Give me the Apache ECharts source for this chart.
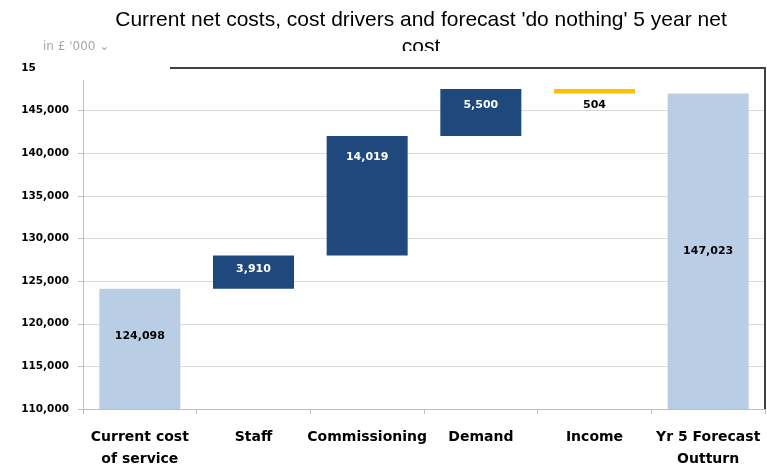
<!DOCTYPE html>
<html>
<head>
<meta charset="utf-8">
<title>Net costs waterfall</title>
<script src="https://cdn.jsdelivr.net/npm/echarts@6/dist/echarts.min.js"></script>
<style>
  html, body { margin: 0; padding: 0; background: #fff; }
  #chart { width: 767px; height: 470px; }
</style>
</head>
<body>
<div id="chart"></div>
<script>
// data (in £ '000)
const categories = ['Current cost\nof service', 'Staff', 'Commissioning', 'Demand', 'Income', 'Yr 5 Forecast\nOutturn'];
const currentCost = 124098;
const driverValues = [3910, 14019, 5500]; // Staff, Commissioning, Demand
const incomeValue = -504;
const forecastOutturn = 147023;
const yMin = 110000;
const yMax = 150000;
const yStep = 5000;

const lightBlue = '#b9cde5';
const darkBlue = '#1f497d';
const yellow = '#ffc000';
const fmt = (v) => Number(v).toLocaleString('en-US');

// build the stacked waterfall columns
const baseData = [0];
const totalData = [currentCost];
const driverData = ['-'];
const incomeData = ['-'];
let running = currentCost;
driverValues.forEach((d) => {
  baseData.push(running);
  driverData.push(d);
  totalData.push('-');
  incomeData.push('-');
  running += d;
});
running += incomeValue;
baseData.push(running);
incomeData.push(Math.abs(incomeValue));
driverData.push('-');
totalData.push('-');
baseData.push(0);
totalData.push(forecastOutturn);
driverData.push('-');
incomeData.push('-');

// label placement inside the driver bars (px from bar top)
const driverLabelDist = [8, 16, 11];
const driverItems = driverData.map((v, i) =>
  v === '-' ? '-' : { value: v, label: { position: 'insideTop', distance: driverLabelDist[i - 1] } }
);
const totalItems = totalData.map((v, i) =>
  v === '-' ? '-' : (i === 0 ? { value: v, label: { offset: [0, -13] } } : v)
);

const chart = echarts.init(document.getElementById('chart'));

const option = {
  animation: false,
  title: {
    text: "Current net costs, cost drivers and forecast 'do nothing' 5 year net\ncost",
    left: 421,
    top: 7,
    textAlign: 'center',
    padding: 0,
    textStyle: {
      fontFamily: 'Liberation Sans, Arial, sans-serif',
      fontSize: 21,
      fontWeight: 'normal',
      color: '#000',
      lineHeight: 27,
    },
  },
  grid: { left: 83, right: 2, top: 68, bottom: 60 },
  xAxis: [
    {
      type: 'category',
      data: categories,
      axisLine: { lineStyle: { color: '#bfbfbf', width: 1 } },
      axisTick: { show: true, length: 5, interval: 0, lineStyle: { color: '#bfbfbf' } },
      axisLabel: {
        interval: 0,
        margin: 17,
        color: '#000',
        fontFamily: 'DejaVu Sans, sans-serif',
        fontWeight: 'bold',
        fontSize: 14,
        lineHeight: 22,
      },
    },
    {
      type: 'category',
      data: categories,
      position: 'top',
      axisLine: { lineStyle: { color: '#404040', width: 2 } },
      axisTick: { show: false },
      axisLabel: { show: false },
    },
  ],
  yAxis: [
    {
      type: 'value',
      min: yMin,
      max: yMax,
      interval: yStep,
      axisLine: { show: true, lineStyle: { color: '#bfbfbf' } },
      axisTick: { show: true, length: 5, lineStyle: { color: '#bfbfbf' } },
      splitLine: { lineStyle: { color: '#d9d9d9' } },
      axisLabel: {
        margin: 14,
        color: '#000',
        fontFamily: 'DejaVu Sans, sans-serif',
        fontWeight: 'bold',
        fontSize: 10.5,
        formatter: (v) => fmt(v),
      },
    },
    {
      type: 'value',
      min: yMin,
      max: yMax,
      interval: yStep,
      position: 'right',
      axisLine: { show: true, lineStyle: { color: '#404040', width: 2 } },
      axisTick: { show: false },
      axisLabel: { show: false },
      splitLine: { show: false },
    },
  ],
  series: [
    {
      name: 'base',
      type: 'bar',
      stack: 'w',
      barWidth: 81,
      silent: true,
      itemStyle: { color: 'transparent' },
      data: baseData,
    },
    {
      name: 'total',
      type: 'bar',
      stack: 'w',
      barWidth: 81,
      itemStyle: { color: lightBlue },
      label: {
        show: true,
        position: 'inside',
        color: '#000',
        fontFamily: 'DejaVu Sans, sans-serif',
        fontWeight: 'bold',
        fontSize: 11,
        formatter: (p) => fmt(p.value),
      },
      data: totalItems,
    },
    {
      name: 'drivers',
      type: 'bar',
      stack: 'w',
      barWidth: 81,
      itemStyle: { color: darkBlue },
      label: {
        show: true,
        color: '#fff',
        fontFamily: 'DejaVu Sans, sans-serif',
        fontWeight: 'bold',
        fontSize: 11,
        formatter: (p) => fmt(p.value),
      },
      data: driverItems,
    },
    {
      name: 'income',
      type: 'bar',
      stack: 'w',
      barWidth: 83,
      itemStyle: { color: yellow },
      label: {
        show: true,
        position: 'bottom',
        distance: 6,
        color: '#000',
        fontFamily: 'DejaVu Sans, sans-serif',
        fontWeight: 'bold',
        fontSize: 11,
        formatter: (p) => fmt(p.value),
      },
      data: incomeData,
    },
  ],
  graphic: [
    // white boxes that sit over the top of the plot, like the original
    { type: 'rect', z: 100, shape: { x: 36, y: 51, width: 134, height: 29 }, style: { fill: '#fff' } },
    { type: 'rect', z: 100, shape: { x: 170, y: 51, width: 597, height: 15 }, style: { fill: '#fff' } },
    {
      type: 'text',
      z: 101,
      left: 43,
      top: 41,
      style: {
        text: "in £ '000 ⌄",
        fill: '#a6a6a6',
        font: '12px DejaVu Sans, sans-serif',
      },
    },
  ],
};

chart.setOption(option);
</script>
</body>
</html>
